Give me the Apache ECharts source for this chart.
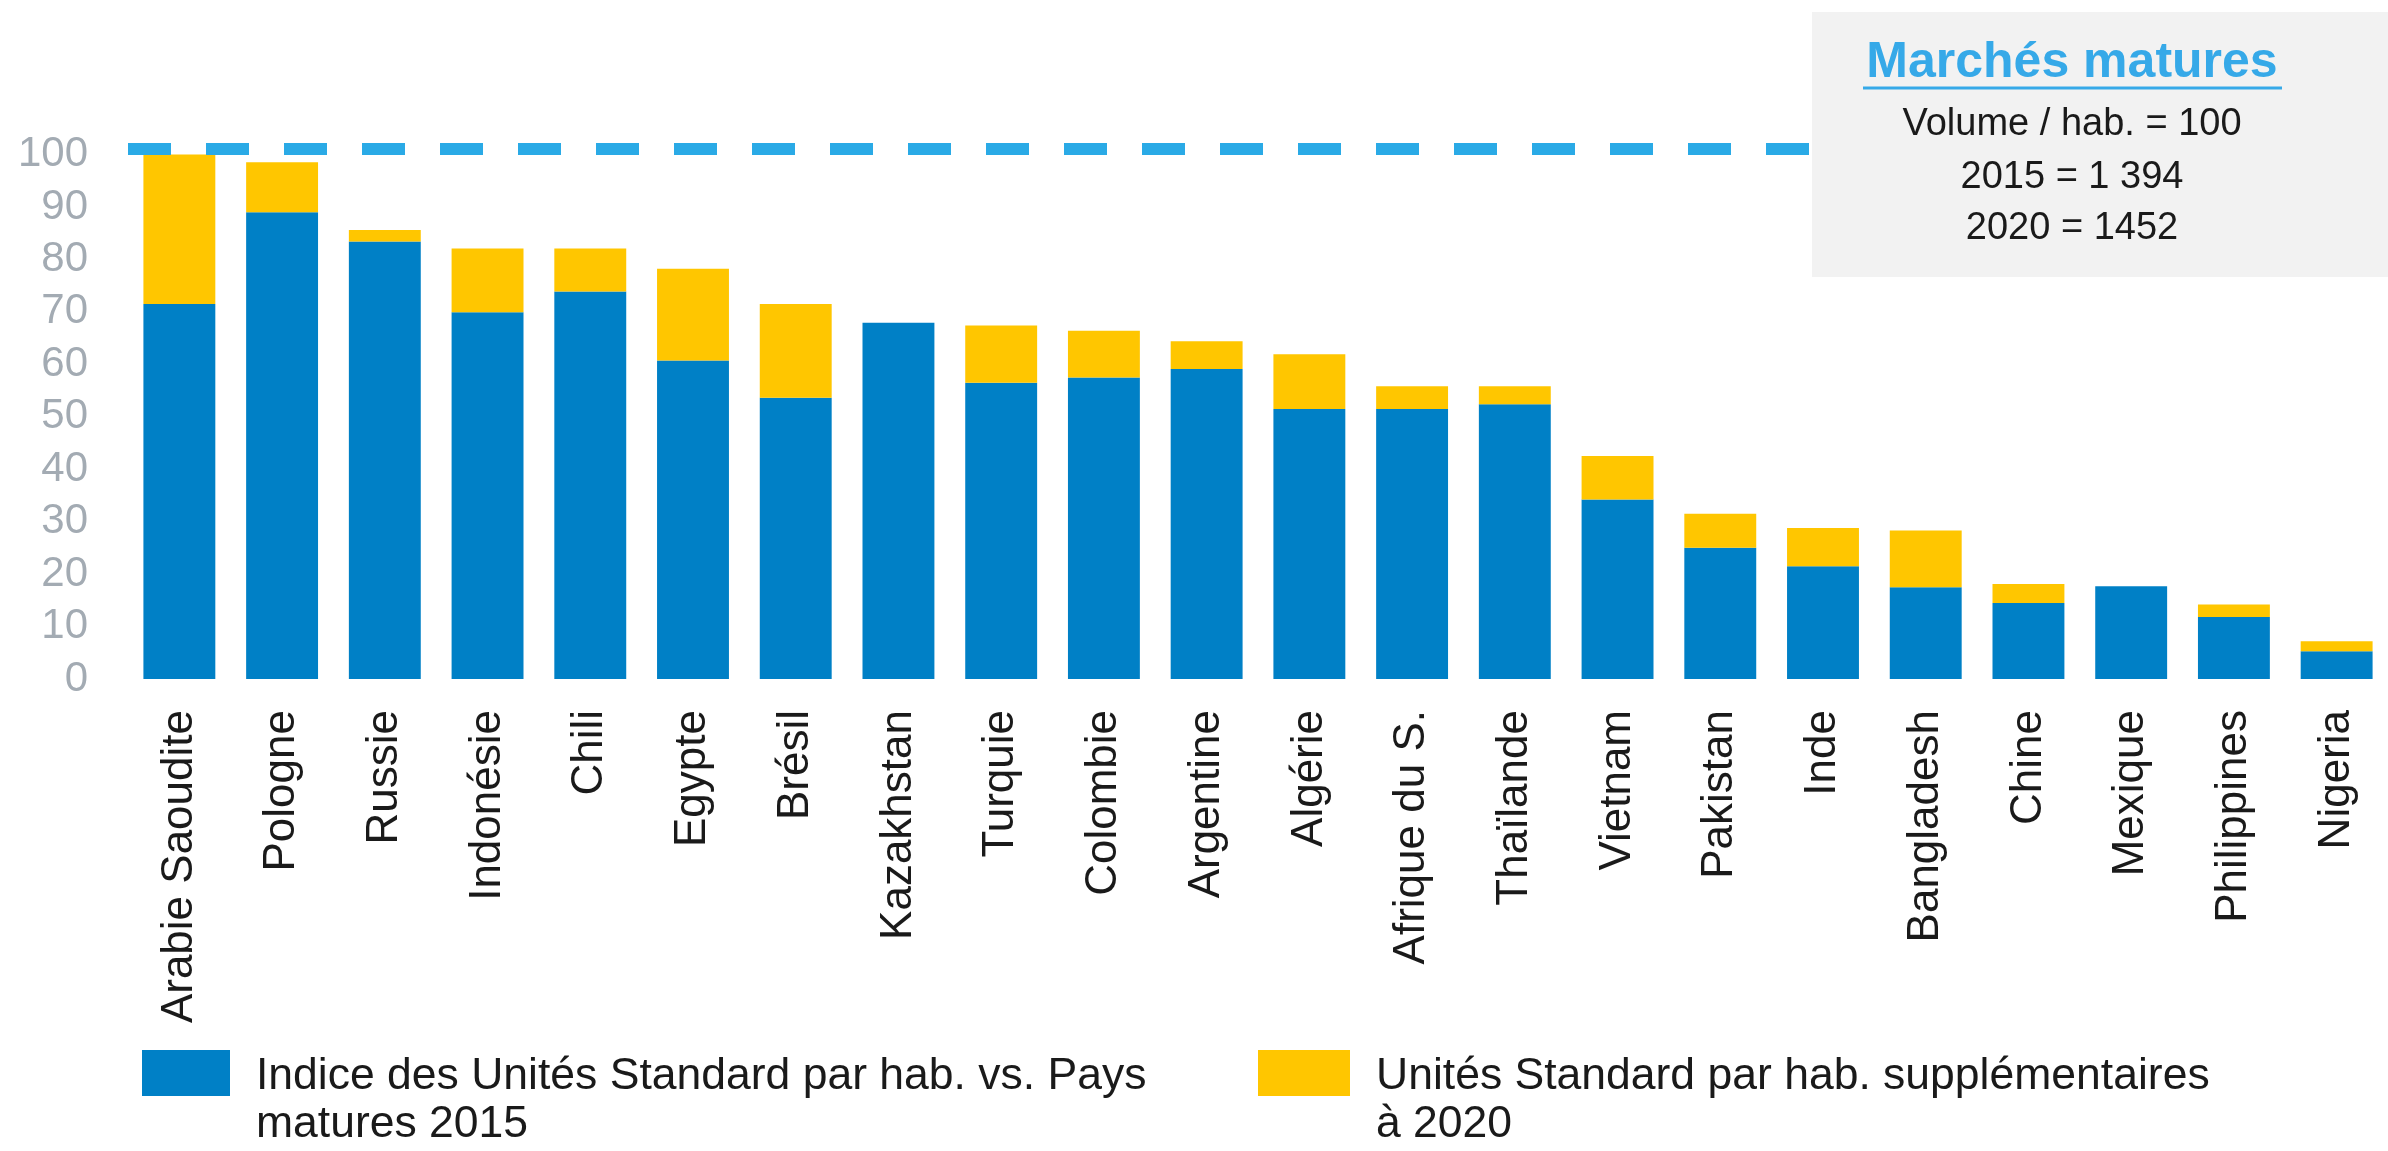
<!DOCTYPE html>
<html>
<head>
<meta charset="utf-8">
<script src="https://cdn.jsdelivr.net/npm/echarts@6/dist/echarts.min.js"></script>
<style>
html,body{margin:0;padding:0;background:#fff;}
#chart{width:2388px;height:1151px;}
</style>
</head>
<body>
<div id="chart"></div>
<script>
var categories = ['Arabie Saoudite','Pologne','Russie','Indonésie','Chili','Egypte','Brésil','Kazakhstan','Turquie','Colombie','Argentine','Algérie','Afrique du S.','Thaïlande','Vietnam','Pakistan','Inde','Bangladesh','Chine','Mexique','Philippines','Nigeria'];
var base2015 = [71.5, 89, 83.4, 69.9, 73.9, 60.7, 53.6, 67.9, 56.5, 57.5, 59.1, 51.5, 51.5, 52.4, 34.2, 25, 21.5, 17.5, 14.5, 17.7, 11.8, 5.3];
var extra2020 = [28.5, 9.5, 2.2, 12.2, 8.2, 17.5, 17.9, 0, 10.9, 8.9, 5.3, 10.4, 4.3, 3.4, 8.3, 6.5, 7.3, 10.8, 3.6, 0, 2.4, 1.9];
var matureLevel = 101;
var yTicks = [0,10,20,30,40,50,60,70,80,90,100];
var seriesNames = ['Indice des Unités Standard par hab. vs. Pays\nmatures 2015', 'Unités Standard par hab. supplémentaires\nà 2020'];
var boxTitle = 'Marchés matures';
var boxLines = ['Volume / hab. = 100', '2015 = 1 394', '2020 = 1452'];

var FONT = '"Liberation Sans", Arial, Helvetica, sans-serif';
var chart = echarts.init(document.getElementById('chart'));

var legendText = {
  fontFamily: FONT, fontSize: 44.5, color: '#1a1a1a', lineHeight: 48,
  padding: [0, 0, 0, 21],
  rich: { s: { fontSize: 10, lineHeight: 56 } }
};
function legendFmt(name) { return '{s| }\n' + name; }

chart.setOption({
  backgroundColor: '#ffffff',
  animation: false,
  grid: { left: 128, right: 0, top: 144, bottom: 472, containLabel: false },
  legend: [
    { data: [seriesNames[0]], left: 137, top: 992, orient: 'horizontal', icon: 'rect',
      itemWidth: 88, itemHeight: 46, textStyle: legendText, formatter: legendFmt, selectedMode: false },
    { data: [seriesNames[1]], left: 1253, top: 992, orient: 'horizontal', icon: 'rect',
      itemWidth: 92, itemHeight: 46, textStyle: legendText, formatter: legendFmt, selectedMode: false }
  ],
  xAxis: {
    type: 'category',
    data: categories,
    axisLine: { show: false },
    axisTick: { show: false },
    axisLabel: {
      rotate: 90, interval: 0, margin: 31,
      fontFamily: FONT, fontSize: 44, color: '#1a1a1a'
    }
  },
  yAxis: {
    type: 'value', min: 0, max: 102, interval: 10,
    splitLine: { show: false },
    axisLine: { show: false },
    axisTick: { show: false },
    axisLabel: {
      margin: 40, fontFamily: FONT, fontSize: 42, color: '#a3abb3',
      formatter: function (v) { return yTicks.indexOf(v) >= 0 ? String(v) : ''; }
    }
  },
  series: [
    {
      name: seriesNames[0], type: 'bar', stack: 'total', data: base2015,
      barCategoryGap: '30%',
      itemStyle: { color: '#0080c6' },
      markLine: {
        silent: true, symbol: 'none',
        label: { show: false },
        lineStyle: { color: '#2aaae6', width: 12, type: [43, 35] },
        data: [{ yAxis: matureLevel }]
      }
    },
    {
      name: seriesNames[1], type: 'bar', stack: 'total', data: extra2020,
      barCategoryGap: '30%',
      itemStyle: { color: '#ffc600' }
    }
  ],
  graphic: [
    { type: 'rect', z: 100, shape: { x: 1812, y: 12, width: 576, height: 265 },
      style: { fill: '#f2f2f2' } },
    { type: 'text', z: 101, x: 2072, y: 63,
      style: { text: boxTitle, fontFamily: FONT, fontSize: 50, fontWeight: 'bold',
        fill: '#36a9e8', align: 'center', verticalAlign: 'middle' } },
    { type: 'line', z: 101, shape: { x1: 1863, y1: 88, x2: 2282, y2: 88 },
      style: { stroke: '#36a9e8', lineWidth: 3 } },
    { type: 'text', z: 101, x: 2072, y: 125,
      style: { text: boxLines[0], fontFamily: FONT, fontSize: 38, fill: '#1a1a1a',
        align: 'center', verticalAlign: 'middle' } },
    { type: 'text', z: 101, x: 2072, y: 178,
      style: { text: boxLines[1], fontFamily: FONT, fontSize: 38, fill: '#1a1a1a',
        align: 'center', verticalAlign: 'middle' } },
    { type: 'text', z: 101, x: 2072, y: 229,
      style: { text: boxLines[2], fontFamily: FONT, fontSize: 38, fill: '#1a1a1a',
        align: 'center', verticalAlign: 'middle' } }
  ]
});
</script>
</body>
</html>
